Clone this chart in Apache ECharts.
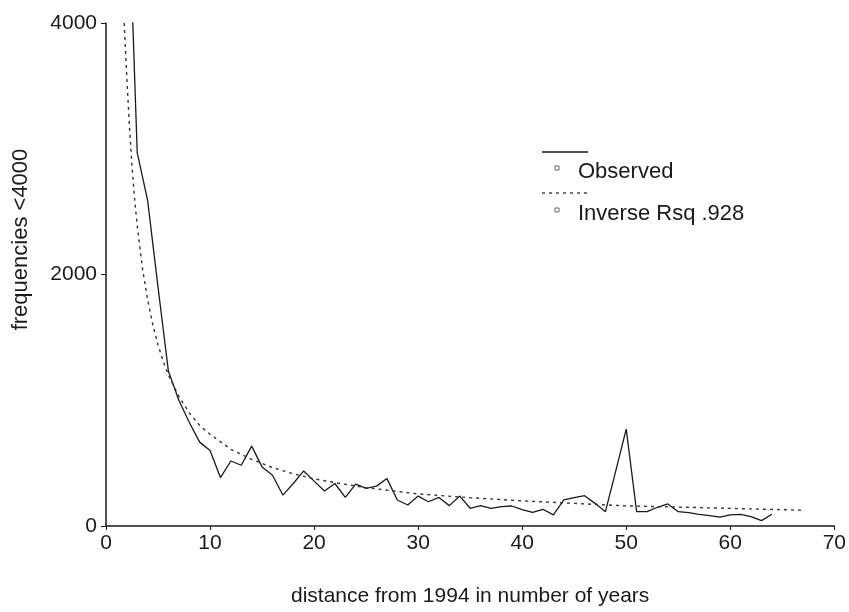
<!DOCTYPE html>
<html>
<head>
<meta charset="utf-8">
<title>frequencies by distance from 1994</title>
<script src="https://cdn.jsdelivr.net/npm/echarts@6/dist/echarts.min.js"></script>
<style>
  html, body { margin: 0; padding: 0; background: #fff; }
  #chart { width: 849px; height: 612px; }
</style>
</head>
<body>
<div id="chart"></div>
<script>
// observed frequencies, by distance in years
const years = [2, 3, 4, 5, 6, 7, 8, 9, 10, 11, 12, 13, 14, 15, 16, 17, 18, 19, 20, 21,
  22, 23, 24, 25, 26, 27, 28, 29, 30, 31, 32, 33, 34, 35, 36, 37, 38, 39, 40, 41,
  42, 43, 44, 45, 46, 47, 48, 49, 50, 51, 52, 53, 54, 55, 56, 57, 58, 59, 60, 61,
  62, 63, 64]
const observed = [5400, 2970, 2590, 1900, 1230, 1000, 825, 667, 600, 385, 517, 483, 635, 470, 404, 246, 338, 438, 357, 278,
  338, 227, 333, 299, 317, 377, 207, 167, 238, 193, 227, 162, 238, 141, 162, 141, 154, 159, 130, 109,
  133, 88, 207, 225, 241, 180, 114, 440, 770, 114, 114, 149, 175, 114, 107, 93, 83, 70, 88, 93,
  75, 43, 93]

// inverse fit curve
const fitX = [1.75, 2, 2.25, 2.5, 2.75, 3, 3.5, 4, 4.5, 5, 5.5, 6, 7, 8, 9, 10, 12, 14, 16, 18, 20, 22, 25, 30, 35, 40, 45, 50, 55, 60, 65, 67]
const fitY = [4000, 3570, 3180, 2860, 2600, 2390, 2050, 1800, 1600, 1440, 1310, 1200, 1030, 900, 800, 730, 610, 530, 465, 415, 375, 345, 305, 255, 225, 200, 180, 160, 150, 140, 130, 125]

const xTicks = [0, 10, 20, 30, 40, 50, 60, 70]
const yTicks = [0, 2000, 4000]

const chart = echarts.init(document.getElementById('chart'))

const ink = '#1a1a1a'
const font = 'Liberation Sans, Arial, sans-serif'

const option = {
  animation: false,
  grid: { left: 106, right: 13, top: 23, bottom: 83 },
  xAxis: {
    type: 'value',
    min: xTicks[0],
    max: xTicks[xTicks.length - 1],
    interval: 10,
    name: 'distance from 1994 in number of years',
    nameLocation: 'middle',
    nameGap: 60,
    nameTextStyle: { color: ink, fontSize: 21, fontFamily: font },
    axisLine: { lineStyle: { color: ink, width: 1.5 } },
    axisTick: { length: 4, lineStyle: { color: ink } },
    axisLabel: { color: ink, fontSize: 21, fontFamily: font, margin: 7 },
    splitLine: { show: false }
  },
  yAxis: {
    type: 'value',
    min: yTicks[0],
    max: yTicks[yTicks.length - 1],
    interval: 2000,
    name: 'frequencies <4000',
    nameLocation: 'middle',
    nameGap: 74,
    nameTextStyle: { color: ink, fontSize: 22, fontFamily: font, padding: [0, 0, 0, 70] },
    axisLine: { show: true, lineStyle: { color: ink, width: 1.5 } },
    axisTick: { show: true, length: 5, lineStyle: { color: ink } },
    axisLabel: { color: ink, fontSize: 21, fontFamily: font, margin: 9, formatter: (v) => String(v) },
    splitLine: { show: false }
  },
  series: [
    {
      name: 'Observed',
      type: 'line',
      data: years.map((x, i) => [x, observed[i]]),
      showSymbol: false,
      lineStyle: { color: ink, width: 1.3 }
    },
    {
      name: 'Inverse Rsq .928',
      type: 'line',
      data: fitX.map((x, i) => [x, fitY[i]]),
      showSymbol: false,
      lineStyle: { color: '#333', width: 1.4, type: [3, 4] }
    }
  ],
  // legend drawn by hand: line sample above a small square marker and the label
  graphic: [
    { type: 'line', shape: { x1: 542, y1: 152, x2: 588, y2: 152 }, style: { stroke: ink, lineWidth: 1.3 } },
    { type: 'rect', shape: { x: 555, y: 166, width: 4, height: 4 }, style: { fill: 'none', stroke: '#666', lineWidth: 1 } },
    { type: 'text', x: 578, y: 172, style: { text: 'Observed', fill: ink, fontSize: 22, fontFamily: font, verticalAlign: 'middle' } },
    { type: 'line', shape: { x1: 542, y1: 193, x2: 590, y2: 193 }, style: { stroke: '#444', lineWidth: 1.3, lineDash: [3, 4] } },
    { type: 'rect', shape: { x: 555, y: 208, width: 4, height: 4 }, style: { fill: 'none', stroke: '#666', lineWidth: 1 } },
    { type: 'text', x: 578, y: 214, style: { text: 'Inverse Rsq .928', fill: ink, fontSize: 22, fontFamily: font, verticalAlign: 'middle' } }
  ]
}

chart.setOption(option)
window.addEventListener('resize', () => chart.resize())
</script>
</body>
</html>
